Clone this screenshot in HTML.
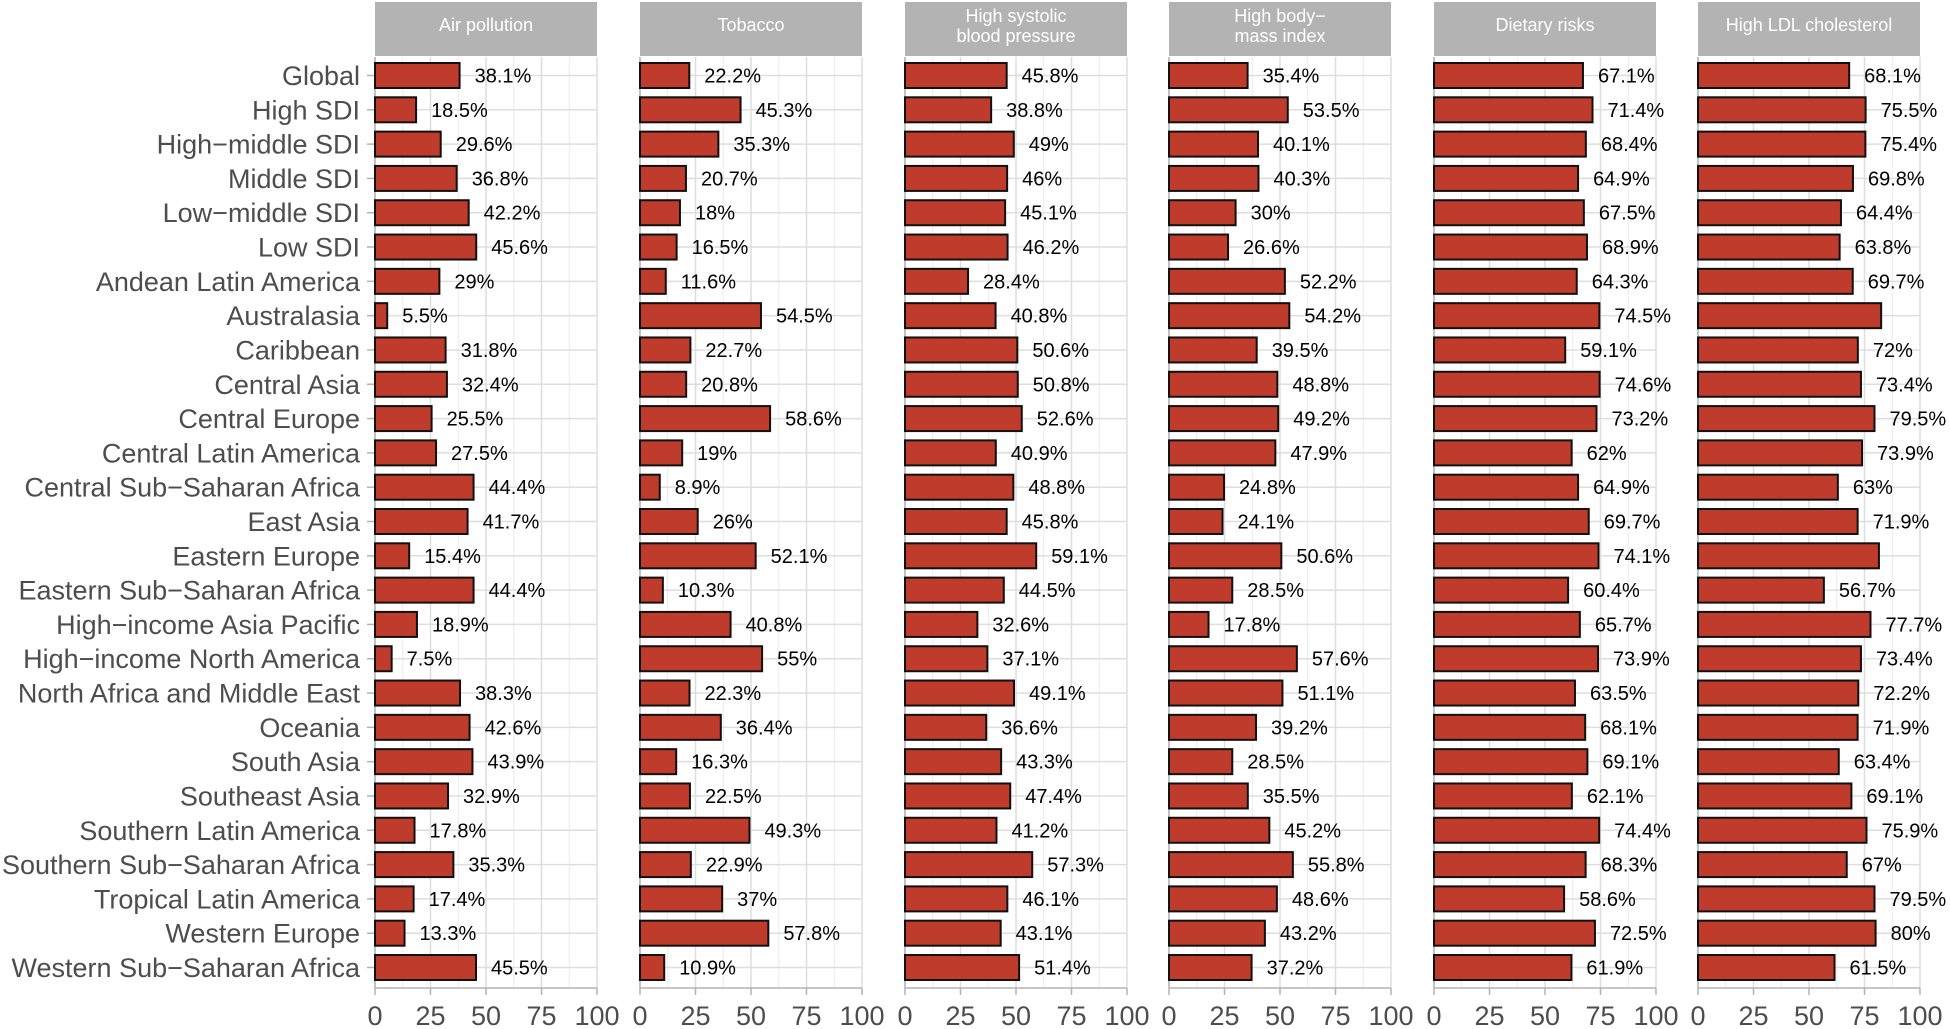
<!DOCTYPE html>
<html><head><meta charset="utf-8"><style>
body{margin:0;background:#fff;}
svg{display:block;font-family:"Liberation Sans",Arial,sans-serif;}
</style></head><body>
<svg id="chart" width="1950" height="1029" viewBox="0 0 1950 1029"></svg>
<script>
const categories=["Global","High SDI","High\u2212middle SDI","Middle SDI","Low\u2212middle SDI","Low SDI","Andean Latin America","Australasia","Caribbean","Central Asia","Central Europe","Central Latin America","Central Sub\u2212Saharan Africa","East Asia","Eastern Europe","Eastern Sub\u2212Saharan Africa","High\u2212income Asia Pacific","High\u2212income North America","North Africa and Middle East","Oceania","South Asia","Southeast Asia","Southern Latin America","Southern Sub\u2212Saharan Africa","Tropical Latin America","Western Europe","Western Sub\u2212Saharan Africa"];
const panelTitles=[["Air pollution"],["Tobacco"],["High systolic","blood pressure"],["High body\u2212","mass index"],["Dietary risks"],["High LDL cholesterol"]];
const airPollution=[38.1,18.5,29.6,36.8,42.2,45.6,29,5.5,31.8,32.4,25.5,27.5,44.4,41.7,15.4,44.4,18.9,7.5,38.3,42.6,43.9,32.9,17.8,35.3,17.4,13.3,45.5];
const tobacco=[22.2,45.3,35.3,20.7,18,16.5,11.6,54.5,22.7,20.8,58.6,19,8.9,26,52.1,10.3,40.8,55,22.3,36.4,16.3,22.5,49.3,22.9,37,57.8,10.9];
const highSbp=[45.8,38.8,49,46,45.1,46.2,28.4,40.8,50.6,50.8,52.6,40.9,48.8,45.8,59.1,44.5,32.6,37.1,49.1,36.6,43.3,47.4,41.2,57.3,46.1,43.1,51.4];
const highBmi=[35.4,53.5,40.1,40.3,30,26.6,52.2,54.2,39.5,48.8,49.2,47.9,24.8,24.1,50.6,28.5,17.8,57.6,51.1,39.2,28.5,35.5,45.2,55.8,48.6,43.2,37.2];
const dietaryRisks=[67.1,71.4,68.4,64.9,67.5,68.9,64.3,74.5,59.1,74.6,73.2,62,64.9,69.7,74.1,60.4,65.7,73.9,63.5,68.1,69.1,62.1,74.4,68.3,58.6,72.5,61.9];
const highLdl=[68.1,75.5,75.4,69.8,64.4,63.8,69.7,82.5,72,73.4,79.5,73.9,63,71.9,81.5,56.7,77.7,73.4,72.2,71.9,63.4,69.1,75.9,67,79.5,80,61.5];
const xTicks=[0,25,50,75,100];
const series=[airPollution,tobacco,highSbp,highBmi,dietaryRisks,highLdl];
const panelNames=["air-pollution","tobacco","high-systolic-bp","high-bmi","dietary-risks","high-ldl"];

const NS="http://www.w3.org/2000/svg";
const svg=document.getElementById('chart');
function mk(tag,attrs,parent){const e=document.createElementNS(NS,tag);for(const k in attrs)e.setAttribute(k,attrs[k]);(parent||svg).appendChild(e);return e;}
const top0=57,bottom0=988,panelW=222,panelLefts=[375,640,905,1169,1434,1698];
const firstC=75.5,lastC=967.5;
const band=(lastC-firstC)/(categories.length-1);
function yC(i){return firstC+band*i;}
const barH=25;

const catG=mk('g',{});


categories.forEach((c,i)=>{
  const t=mk('text',{x:360,y:yC(i)+9.5,'text-anchor':'end','font-size':27,fill:'#4d4d4d'},catG);
  t.textContent=c;
  
  
  mk('line',{x1:367,x2:375,y1:yC(i),y2:yC(i),stroke:'#b3b3b3','stroke-width':1.5},catG);
});

series.forEach((vals,p)=>{
  const L=panelLefts[p];
  const x=v=>L+v/100*panelW;
  const g=mk('g',{});
  
  
  const s=mk('rect',{x:L,y:2,width:panelW,height:54,fill:'#b3b3b3'},g);
  
  
  const lines=panelTitles[p];
  lines.forEach((ln,k)=>{
    const yy=lines.length===1?31:(22+k*20);
    const t=mk('text',{x:L+panelW/2,y:yy,'text-anchor':'middle','font-size':18,fill:'#fff'},g);
    t.textContent=ln;
    
    
  });
  for(let v=0;v<=100;v+=12.5){
    mk('line',{x1:x(v),x2:x(v),y1:top0,y2:bottom0,stroke:(v%25===0)?'#dedede':'#ececec','stroke-width':(v%25===0)?1.5:1},g);
  }
  categories.forEach((c,i)=>{mk('line',{x1:L,x2:L+panelW,y1:yC(i),y2:yC(i),stroke:'#dedede','stroke-width':1.5},g);});
  mk('line',{x1:L,x2:L,y1:top0,y2:bottom0,stroke:'#b3b3b3','stroke-width':1.5},g);
  mk('line',{x1:L,x2:L+panelW,y1:bottom0,y2:bottom0,stroke:'#b3b3b3','stroke-width':1.5},g);
  xTicks.forEach(v=>{
    mk('line',{x1:x(v),x2:x(v),y1:bottom0,y2:bottom0+7,stroke:'#b3b3b3','stroke-width':1.5},g);
    const t=mk('text',{x:x(v),y:1025,'text-anchor':'middle','font-size':27,fill:'#4d4d4d'},g);
    t.textContent=v;
    
    
  });
  vals.forEach((v,i)=>{
    const r=mk('rect',{x:x(0),y:yC(i)-barH/2,width:x(v)-x(0),height:barH,fill:'#bf3b2b',stroke:'#111','stroke-width':2},g);
    
    
    if(v<=80.5){
      const t=mk('text',{x:x(v)+15,y:yC(i)+7,'font-size':20,fill:'#000'},g);
      t.textContent=v+'%';
      
      
    }
  });
});
</script>
</body></html>
